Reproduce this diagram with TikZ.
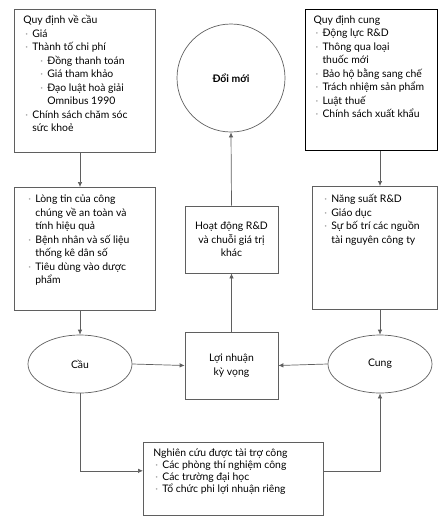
\documentclass[tikz,border=0pt]{standalone}
\usepackage{fontspec}
\setmainfont{Lato}
\usetikzlibrary{shapes.geometric, arrows.meta, positioning, calc}
\definecolor{cL}{RGB}{95,95,95}
\definecolor{cB}{RGB}{160,160,160}
\newcommand{\bl}{\makebox[9pt][l]{\hspace{2pt}\textcolor{cB}{·}}}
\newcommand{\ind}{\hspace*{9pt}}

\tikzset{
  panel/.style={draw=cL, line width=0.7pt, anchor=north west, inner xsep=9pt, inner ysep=6pt,
    font=\fontsize{10.4}{13.5}\selectfont},
  blob/.style={draw=cL, line width=0.7pt, ellipse, minimum width=104pt, minimum height=58pt,
    font=\fontsize{10.4}{12}\selectfont},
  stepbox/.style={draw=cL, line width=0.7pt, minimum width=93pt, minimum height=67pt, align=center,
    font=\fontsize{10.4}{13.5}\selectfont},
  conn/.style={draw=cL, line width=0.7pt},
  arr/.style={conn, -{Latex[length=5pt,width=4.5pt]}}
}

\begin{document}
\begin{tikzpicture}[x=1pt, y=-1pt]
    \useasboundingbox (0,0) rectangle (439,517);

    % Demand side
    \node[panel] (qdcau) at (14,9) {\parbox[t][131pt][t]{123pt}{\raggedright
        Quy định về cầu\\
        \bl Giá\\
        \bl Thành tố chi phí\\
        \ind\hspace*{6pt}\bl Đồng thanh toán\\
        \ind\hspace*{6pt}\bl Giá tham khảo\\
        \ind\hspace*{6pt}\bl Đạo luật hoà giải\\
        \ind\hspace*{6pt}\ind Omnibus 1990\\
        \bl Chính sách chăm sóc\\
        \ind sức khoẻ}};
    \node[panel, inner xsep=12pt, inner ysep=8pt] (longtin) at (14,187) {\parbox[t][107pt][t]{117pt}{\raggedright
        \bl Lòng tin của công\\
        \ind chúng về an toàn và\\
        \ind tính hiệu quả\\
        \bl Bệnh nhân và số liệu\\
        \ind thống kê dân số\\
        \bl Tiêu dùng vào dược\\
        \ind phẩm}};
    \node[blob] (cau) at (80,364) {Cầu};

    % Supply side
    \node[panel, draw=black, line width=1pt, inner xsep=8pt] (qdcung) at (305,9) {\parbox[t][129pt][t]{116pt}{\raggedright
        Quy định cung\\
        \bl Động lực R\&D\\
        \bl Thông qua loại\\
        \ind thuốc mới\\
        \bl Bảo hộ bằng sang chế\\
        \bl Trách nhiệm sản phẩm\\
        \bl Luật thuế\\
        \bl Chính sách xuất khẩu}};
    \node[panel, inner xsep=10pt, inner ysep=8pt] (nangsuat) at (312,186) {\parbox[t][107pt][t]{105pt}{\raggedright
        \bl Năng suất R\&D\\
        \bl Giáo dục\\
        \bl Sự bố trí các nguồn\\
        \ind tài nguyên công ty}};
    \node[blob] (cung) at (380,364) {Cung};

    % Middle column
    \node[draw=cL, line width=0.7pt, circle, minimum size=108pt, font=\fontsize{10.4}{12}\selectfont\bfseries] (doimoi) at (231,78) {Đổi mới};
    \node[stepbox] (rd) at (231.5,239.5) {Hoạt động R\&D\\và chuỗi giá trị\\khác};
    \node[stepbox] (loinhuan) at (231.5,365.5) {Lợi nhuận\\kỳ vọng};

    % Public research
    \node[panel, inner xsep=10pt, inner ysep=6pt, font=\fontsize{10.4}{12}\selectfont] (nccong) at (143,442) {\parbox[t][61pt][t]{160pt}{\raggedright
        Nghiên cứu được tài trợ công\\
        \bl Các phòng thí nghiệm công\\
        \bl Các trường đại học\\
        \bl Tổ chức phi lợi nhuận riêng}};

    % Connectors
    \draw[arr] (cau |- qdcau.south) -- (cau |- longtin.north);
    \draw[arr] (cau |- longtin.south) -- (cau.north);
    \draw[arr] (cung |- qdcung.south) -- (cung |- nangsuat.north);
    \draw[arr] (cung |- nangsuat.south) -- (cung.north);
    \draw[arr] (cau.east) -- (loinhuan.west);
    \draw[arr] (cung.west) -- (loinhuan.east);
    \draw[arr] (loinhuan.north) -- (rd.south);
    \draw[arr] (rd.north) -- (doimoi.south);
    \draw[arr] (cau.south) |- ([yshift=8pt]nccong.west);
    \draw[arr] ([yshift=8pt]nccong.east) -| (cung.south);
\end{tikzpicture}
\end{document}
